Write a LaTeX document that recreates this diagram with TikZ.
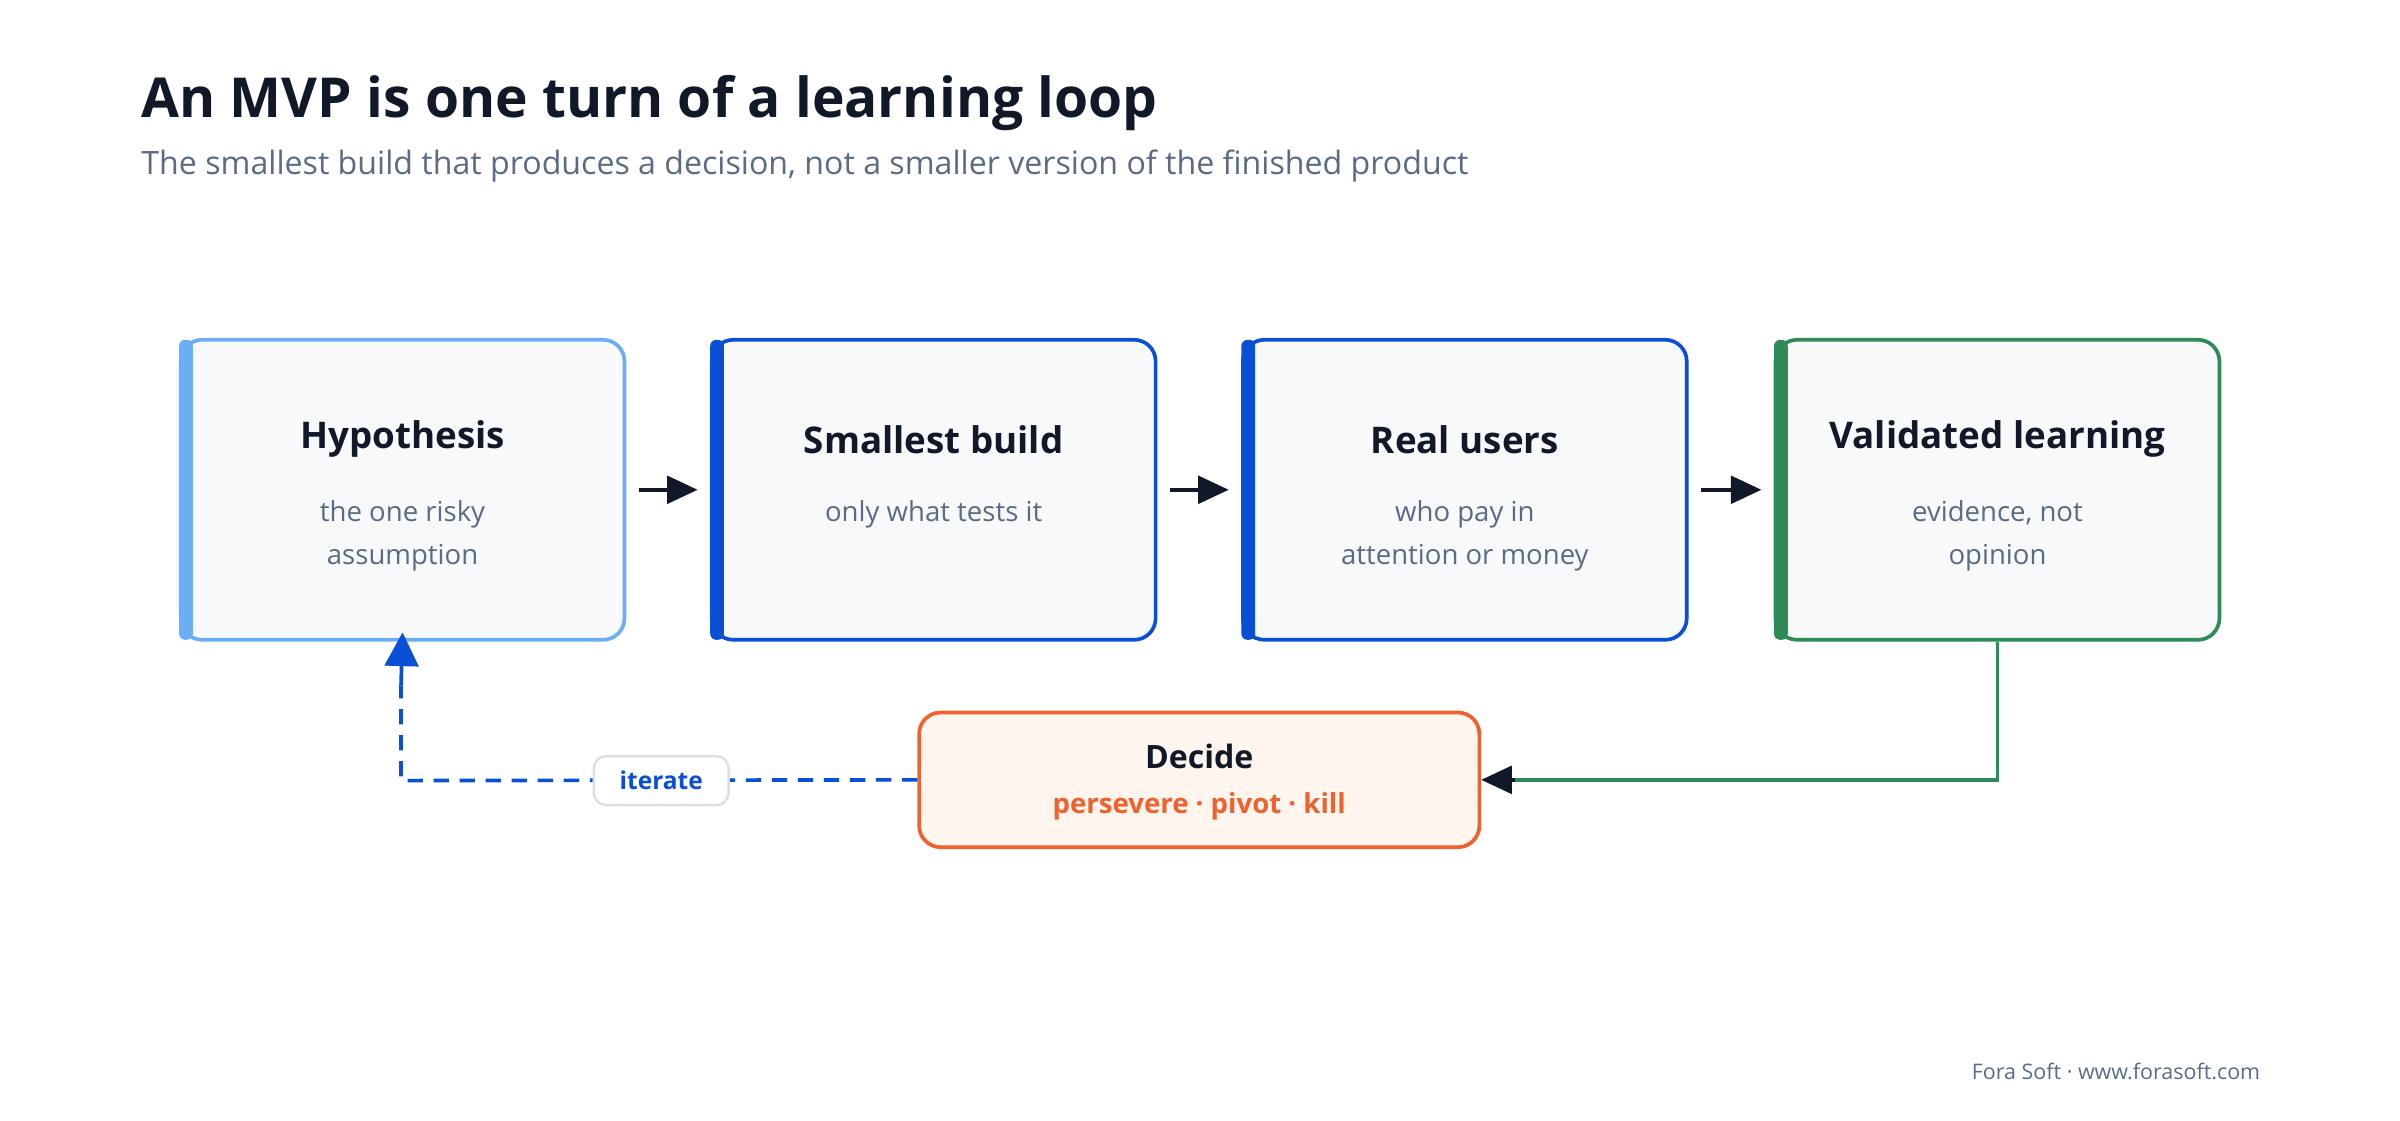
\documentclass[tikz,border=0pt]{standalone}
\usepackage{fontspec}
\setmainfont{Open Sans}[BoldFont={Open Sans Bold}]
\usetikzlibrary{arrows.meta}
\definecolor{ink}{HTML}{111827}
\definecolor{sub}{HTML}{5B6B86}
\definecolor{lblue}{HTML}{6AAEF5}
\definecolor{dblue}{HTML}{0A4FD6}
\definecolor{green}{HTML}{2E8A57}
\definecolor{orng}{HTML}{F0612D}
\definecolor{boxfill}{HTML}{F7F9FB}
\definecolor{decfill}{HTML}{FEF5EE}
\begin{document}
\begin{tikzpicture}[x=0.5pt,y=-0.5pt,
  step/.style={draw=#1,line width=1.2pt,fill=boxfill,rounded corners=7pt,minimum width=145pt,minimum height=98pt,inner sep=0pt},
  ttl/.style={font=\bfseries\fontsize{12}{15}\selectfont,text=ink},
  txt/.style={font=\fontsize{9}{14}\selectfont,text=sub,align=center},
  arr/.style={-{Triangle[length=10pt,width=9pt]},line width=1.3pt,draw=ink}]
\useasboundingbox (0,0) rectangle (1568,732);
\node[anchor=base west,inner sep=0pt,font=\bfseries\fontsize{18}{22}\selectfont,text=ink] (title) at (92,77) {An MVP is one turn of a learning loop};
\node[anchor=base west,inner sep=0pt,font=\fontsize{10.5}{13}\selectfont,text=sub] (subt) at (92,114) {The smallest build that produces a decision, not a smaller version of the finished product};
\foreach \n/\x/\c in {h/263/lblue,b/610/dblue,u/957/dblue,v/1305/green}{
  \node[step=\c] (\n) at (\x,320) {};
  \fill[\c,rounded corners=2pt] (\x-146,222) rectangle (\x-137,418);
}
\node[ttl] (ht) at (263,287) {Hypothesis};
\node[txt] (hs) at (263,350) {the one risky\\assumption};
\node[ttl] (bt) at (610,287) {Smallest build};
\node[txt] (bs) at (610,336) {only what tests it};
\node[ttl] (ut) at (957,287) {Real users};
\node[txt] (us) at (957,350) {who pay in\\attention or money};
\node[ttl] (vt) at (1305,287) {Validated learning};
\node[txt] (vs) at (1305,350) {evidence, not\\opinion};
\draw[arr] ([xshift=4pt]h.east) -- ([xshift=-4pt]b.west);
\draw[arr] ([xshift=4pt]b.east) -- ([xshift=-4pt]u.west);
\draw[arr] ([xshift=4pt]u.east) -- ([xshift=-4pt]v.west);
\node[draw=orng,line width=1.2pt,fill=decfill,rounded corners=7pt,minimum width=183pt,minimum height=44pt] (d) at (783.5,509.5) {};
\node[font=\bfseries\fontsize{10.5}{13}\selectfont,text=ink] (dt) at (783.5,494) {Decide};
\node[font=\bfseries\fontsize{9}{11}\selectfont,text=orng] (ds) at (783.5,527) {persevere · pivot · kill};
\draw[green,line width=1.2pt] (v.south) |- ([xshift=10pt]d.east);
\draw[arr] ([xshift=11pt]d.east) -- (d.east);
\coordinate (c) at (262,510);
\draw[dblue,line width=1.2pt,dash pattern=on 5pt off 3.5pt] (d.west) -- (c) -- (262,448);
\draw[dblue,-{Triangle[length=11pt,width=11pt]},line width=1.2pt] (262,448) -- ([yshift=3pt]h.south);
\node[draw=gray!25,line width=0.8pt,fill=white,rounded corners=4pt,minimum width=44pt,minimum height=16pt,font=\bfseries\fontsize{8}{10}\selectfont,text=dblue] (it) at (432,510) {iterate};
\node[anchor=base east,inner sep=0pt,font=\fontsize{7}{9}\selectfont,text=sub] (foot) at (1477,705) {Fora Soft · www.forasoft.com};
\end{tikzpicture}
\end{document}
